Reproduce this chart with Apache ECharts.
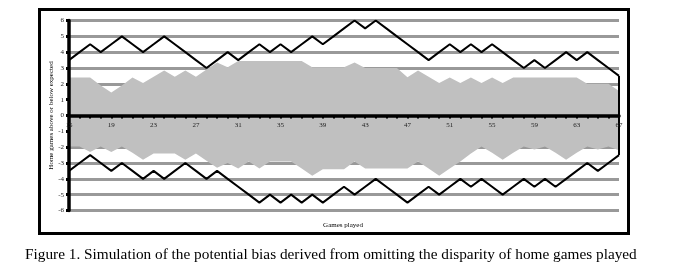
<!DOCTYPE html>
<html>
<head>
<meta charset="utf-8">
<script src="https://cdn.jsdelivr.net/npm/echarts@6/dist/echarts.min.js"></script>
<style>
html,body{margin:0;padding:0;background:#fff;}
#c{width:686px;height:272px;}
</style>
</head>
<body>
<div id="c"></div>
<script>
const games = [];
for (let g = 15; g <= 67; g++) games.push(String(g));

const upperLine = [3.5,4,4.5,4,4.5,5,4.5,4,4.5,5,4.5,4,3.5,3,3.5,4,3.5,4,4.5,4,4.5,4,4.5,5,4.5,5,5.5,6,5.5,6,5.5,5,4.5,4,3.5,4,4.5,4,4.5,4,4.5,4,3.5,3,3.5,3,3.5,4,3.5,4,3.5,3,2.5];
const lowerLine = [-3.5,-3,-2.5,-3,-3.5,-3,-3.5,-4,-3.5,-4,-3.5,-3,-3.5,-4,-3.5,-4,-4.5,-5,-5.5,-5,-5.5,-5,-5.5,-5,-5.5,-5,-4.5,-5,-4.5,-4,-4.5,-5,-5.5,-5,-4.5,-5,-4.5,-4,-4.5,-4,-4.5,-5,-4.5,-4,-4.5,-4,-4.5,-4,-3.5,-3,-3.5,-3,-2.5];
const upperArea = [2.4,2.4,2.4,1.9,1.45,1.9,2.4,2.05,2.45,2.85,2.45,2.85,2.45,2.9,3.35,3.05,3.45,3.45,3.45,3.45,3.45,3.45,3.45,3.05,3.05,3.05,3.05,3.35,3.0,3.0,3.0,3.0,2.42,2.85,2.45,2.05,2.4,2.05,2.4,2.05,2.4,2.05,2.4,2.4,2.4,2.4,2.4,2.4,2.4,2.0,2.0,2.0,1.55];
const lowerArea = [-1.95,-1.95,-2.3,-1.95,-2.3,-1.95,-2.35,-2.8,-2.4,-2.4,-2.4,-2.8,-2.4,-2.85,-3.3,-3.0,-3.35,-2.9,-3.35,-2.9,-2.9,-2.9,-3.35,-3.8,-3.4,-3.4,-3.4,-2.9,-3.35,-3.35,-3.35,-3.35,-3.35,-2.9,-3.35,-3.8,-3.35,-2.9,-2.4,-1.95,-2.35,-2.8,-2.35,-1.95,-2.15,-1.95,-2.35,-2.8,-2.35,-1.95,-2.15,-1.95,-2.2];

const yAxisTitle = 'Home games above or below expected';
const xAxisTitle = 'Games played';
const caption = 'Figure 1. Simulation of the potential bias derived from omitting the disparity of home games played';

const serif = 'Liberation Serif, Times New Roman, serif';
const chart = echarts.init(document.getElementById('c'), null, {renderer: 'canvas'});
const last = games.length - 1;
const yMin = -6, yMax = 6;

chart.setOption({
  animation: false,
  backgroundColor: '#fff',
  title: [{
    text: caption,
    left: 20,
    top: 242,
    textStyle: {fontFamily: serif, fontSize: 15.3, fontWeight: 'normal', color: '#000'}
  }, {
    text: xAxisTitle,
    left: 'center',
    top: 217,
    textStyle: {fontFamily: serif, fontSize: 7, fontWeight: 'normal', color: '#000'}
  }],
  graphic: [{
    type: 'rect',
    shape: {x: 39.5, y: 9.5, width: 589, height: 224},
    style: {fill: null, stroke: '#000', lineWidth: 3},
    z: -1
  }],
  grid: {left: 69, right: 67, top: 20.5, bottom: 61.5, containLabel: false, outerBoundsMode: 'none'},
  xAxis: {
    type: 'category',
    data: games,
    boundaryGap: false,
    position: 'bottom',
    offset: 0,
    axisLine: {show: true, onZero: false, lineStyle: {color: '#000', width: 3.5}},
    axisTick: {show: true, interval: 0, length: 3, lineStyle: {color: '#000', width: 2}},
    axisLabel: {interval: 3, showMinLabel: true, showMaxLabel: true, hideOverlap: false, margin: 6, fontFamily: serif, fontSize: 7, color: '#222'},
    splitLine: {show: false},
    z: 7
  },
  yAxis: [{
    type: 'value',
    min: yMin, max: yMax, interval: 1,
    axisLine: {show: false},
    axisTick: {show: false},
    axisLabel: {show: false},
    splitLine: {show: true, lineStyle: {color: '#999', width: 3}},
    z: 0
  }, {
    type: 'value',
    position: 'left',
    min: yMin, max: yMax, interval: 1,
    name: yAxisTitle,
    nameLocation: 'middle',
    nameGap: 14,
    nameMoveOverlap: false,
    nameTextStyle: {fontFamily: serif, fontSize: 7, color: '#000'},
    axisLine: {show: true, lineStyle: {color: '#000', width: 3.5}},
    axisTick: {show: true, length: 3, lineStyle: {color: '#000', width: 3}},
    axisLabel: {margin: 5, fontFamily: serif, fontSize: 7, color: '#222'},
    splitLine: {show: false},
    z: 6
  }],
  series: [
    {type: 'line', data: upperArea, symbol: 'none', lineStyle: {width: 0}, areaStyle: {color: '#c0c0c0', opacity: 1}, z: 1},
    {type: 'line', data: lowerArea, symbol: 'none', lineStyle: {width: 0}, areaStyle: {color: '#c0c0c0', opacity: 1}, z: 1},
    {type: 'line', data: upperLine, symbol: 'none', lineStyle: {color: '#000', width: 2}, z: 3,
     markLine: {
       silent: true, symbol: 'none', label: {show: false},
       lineStyle: {color: '#000', width: 2, type: 'solid'},
       data: [[{coord: [games[last], upperLine[last]]}, {coord: [games[last], lowerLine[last]]}]]
     }},
    {type: 'line', data: lowerLine, symbol: 'none', lineStyle: {color: '#000', width: 2}, z: 3}
  ]
});

// place the category axis on the zero line of the value axis, using the library's scale
const yZero = chart.convertToPixel({yAxisIndex: 0}, 0);
const yBottom = chart.convertToPixel({yAxisIndex: 0}, yMin);
chart.setOption({xAxis: {offset: -(yBottom - yZero)}});
</script>
</body>
</html>
